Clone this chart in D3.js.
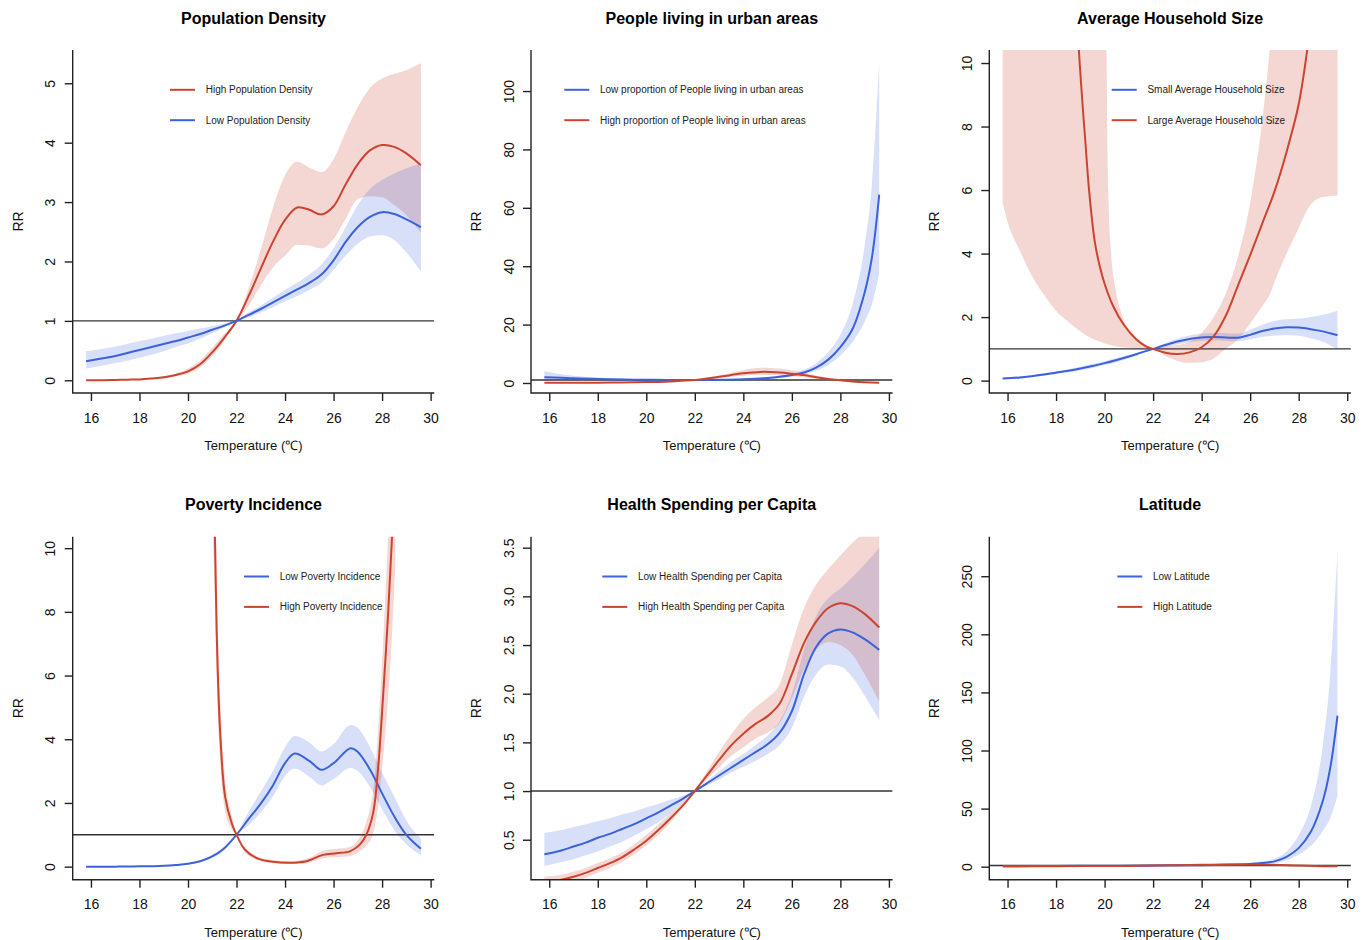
<!DOCTYPE html>
<html>
<head>
<meta charset="utf-8">
<script src="https://cdn.jsdelivr.net/npm/d3@7"></script>
<style>
  body { margin: 0; background: #fff; }
  svg { display: block; font-family: "Liberation Sans", Arial, Helvetica, sans-serif; }
</style>
</head>
<body>
<svg id="chart" width="1369" height="940"></svg>
<script>
// ---------- shared axis data ----------
const xTicks = [16, 18, 20, 22, 24, 26, 28, 30];
const xLabel = "Temperature (℃)";
const yLabel = "RR";

// ---------- Panel 1: Population Density ----------
const pdTitle = "Population Density";
const pdTicks = [0, 1, 2, 3, 4, 5];
const pdT = [15.8, 16.5, 17, 17.5, 18, 18.5, 19, 19.5, 20, 20.5, 21, 21.5, 22, 22.5, 23, 23.5, 24, 24.5, 25, 25.5, 26, 26.5, 27, 27.5, 28, 28.5, 29, 29.6];
const pdHigh   = [0, 0, 0.005, 0.01, 0.015, 0.03, 0.05, 0.09, 0.15, 0.27, 0.47, 0.72, 1.0, 1.42, 1.88, 2.33, 2.70, 2.91, 2.87, 2.79, 2.93, 3.30, 3.64, 3.87, 3.96, 3.93, 3.82, 3.62];
const pdHighLo = [0, 0, 0.003, 0.007, 0.01, 0.02, 0.03, 0.07, 0.11, 0.22, 0.41, 0.66, 1.0, 1.25, 1.60, 1.90, 2.10, 2.28, 2.27, 2.22, 2.38, 2.72, 3.05, 3.10, 3.08, 2.95, 2.78, 2.48];
const pdHighHi = [0.003, 0.005, 0.008, 0.014, 0.02, 0.04, 0.06, 0.11, 0.20, 0.33, 0.55, 0.78, 1.0, 1.55, 2.20, 2.90, 3.45, 3.68, 3.58, 3.50, 3.72, 4.18, 4.60, 4.92, 5.08, 5.16, 5.22, 5.34];
const pdLow    = [0.32, 0.37, 0.41, 0.46, 0.51, 0.56, 0.61, 0.66, 0.72, 0.78, 0.85, 0.92, 1.0, 1.10, 1.20, 1.31, 1.42, 1.53, 1.64, 1.78, 2.02, 2.33, 2.58, 2.75, 2.83, 2.80, 2.71, 2.58];
const pdLowLo  = [0.20, 0.25, 0.29, 0.33, 0.38, 0.43, 0.49, 0.56, 0.62, 0.70, 0.79, 0.89, 1.0, 1.06, 1.14, 1.23, 1.33, 1.42, 1.52, 1.64, 1.86, 2.10, 2.30, 2.42, 2.44, 2.36, 2.15, 1.83];
const pdLowHi  = [0.49, 0.53, 0.57, 0.61, 0.66, 0.70, 0.75, 0.79, 0.83, 0.87, 0.91, 0.95, 1.0, 1.14, 1.26, 1.39, 1.52, 1.64, 1.78, 1.95, 2.22, 2.58, 2.95, 3.22, 3.37, 3.48, 3.57, 3.65];

// ---------- Panel 2: People living in urban areas ----------
const urTitle = "People living in urban areas";
const urTicks = [0, 20, 40, 60, 80, 100];
const urLowT  = [15.8, 16.5, 17, 18, 19, 20, 21, 22, 23, 24, 25, 25.5, 26, 26.5, 27, 27.5, 28, 28.5, 29, 29.3, 29.6];
const urLow   = [2.0, 1.8, 1.6, 1.4, 1.2, 1.1, 1.05, 1.0, 1.1, 1.3, 1.7, 2.1, 2.7, 3.6, 5.3, 8.0, 12.3, 18.5, 31, 43, 64.5];
const urLowLo = [0.9, 1.05, 1.05, 1.0, 0.95, 0.95, 1.0, 1.0, 1.0, 1.1, 1.4, 1.75, 2.25, 3.0, 4.2, 6.2, 9.4, 14, 21, 27, 37.5];
const urLowHi = [4.0, 3.0, 2.5, 1.9, 1.5, 1.25, 1.1, 1.0, 1.2, 1.5, 2.0, 2.5, 3.2, 4.5, 6.8, 10.5, 16.5, 27, 47, 68, 110];
const urHighT  = [15.8, 17, 18, 19, 20, 21, 22, 23, 24, 24.7, 25.5, 26, 26.5, 27, 27.5, 28, 28.5, 29, 29.6];
const urHigh   = [0.1, 0.1, 0.12, 0.2, 0.3, 0.55, 1.0, 2.1, 3.3, 3.8, 3.6, 3.2, 2.7, 2.0, 1.4, 0.95, 0.55, 0.28, 0.12];
const urHighLo = [0.05, 0.06, 0.08, 0.12, 0.2, 0.45, 1.0, 1.7, 2.5, 2.8, 2.6, 2.3, 1.95, 1.5, 1.1, 0.78, 0.4, 0.18, 0.07];
const urHighHi = [0.15, 0.17, 0.2, 0.3, 0.45, 0.7, 1.0, 2.6, 4.4, 5.2, 5.0, 4.4, 3.6, 2.6, 1.8, 1.15, 0.75, 0.4, 0.2];

// ---------- Panel 3: Average Household Size ----------
const hhTitle = "Average Household Size";
const hhTicks = [0, 2, 4, 6, 8, 10];
const hhSmallT  = [15.8, 16.5, 17, 17.5, 18, 18.5, 19, 19.5, 20, 20.5, 21, 21.5, 22, 22.5, 23, 23.5, 24, 24.5, 25, 25.5, 26, 26.5, 27, 27.5, 28, 28.5, 29, 29.6];
const hhSmall   = [0.07, 0.10, 0.14, 0.19, 0.25, 0.31, 0.38, 0.46, 0.55, 0.65, 0.76, 0.88, 1.0, 1.12, 1.23, 1.31, 1.36, 1.37, 1.36, 1.35, 1.44, 1.56, 1.64, 1.68, 1.67, 1.62, 1.55, 1.43];
const hhSmallLo = [0.04, 0.07, 0.11, 0.15, 0.21, 0.26, 0.32, 0.40, 0.49, 0.59, 0.70, 0.84, 1.0, 1.06, 1.14, 1.21, 1.25, 1.26, 1.25, 1.24, 1.30, 1.38, 1.42, 1.44, 1.41, 1.33, 1.22, 0.98];
const hhSmallHi = [0.10, 0.13, 0.17, 0.23, 0.29, 0.36, 0.44, 0.52, 0.61, 0.71, 0.81, 0.91, 1.0, 1.18, 1.32, 1.42, 1.48, 1.50, 1.49, 1.48, 1.60, 1.76, 1.88, 1.93, 1.95, 2.00, 2.07, 2.20];
const hhLargeT  = [18.6, 18.8, 18.94, 19.1, 19.2, 19.36, 19.6, 19.8, 20.0, 20.35, 20.8, 21.3, 21.7, 22, 22.5, 23, 23.5, 24, 24.5, 25, 25.5, 26, 26.5, 27, 27.5, 28, 28.35, 28.6];
const hhLarge   = [15, 12.5, 10.4, 8.6, 7.6, 6.0, 4.35, 3.6, 3.05, 2.35, 1.75, 1.3, 1.08, 1.0, 0.88, 0.84, 0.89, 1.05, 1.4, 2.05, 3.0, 3.95, 4.95, 5.95, 7.2, 8.7, 10.4, 12];
const hhLargeBandT = [15.8, 16, 16.5, 17, 17.5, 18, 18.5, 19, 19.5, 19.9, 20.0, 20.08, 20.15, 20.25, 20.45, 20.7, 21.2, 21.65, 22, 22.5, 23, 23.5, 24, 24.5, 25, 25.5, 26, 26.5, 26.8, 27, 27.5, 28, 28.5, 29, 29.6];
const hhLargeLo = [5.6, 5.0, 4.1, 3.3, 2.7, 2.2, 1.85, 1.55, 1.32, 1.2, 1.17, 1.15, 1.14, 1.12, 1.08, 1.05, 1.02, 1.01, 1.0, 0.78, 0.62, 0.56, 0.58, 0.70, 1.0, 1.3, 1.8, 2.35, 2.7, 3.1, 4.0, 4.8, 5.55, 5.78, 5.83];
const hhLargeHi = [60, 55, 50, 45, 40, 36, 33, 31, 30, 25, 18, 10.4, 6.0, 4.2, 2.9, 2.1, 1.45, 1.16, 1.0, 1.08, 1.12, 1.22, 1.5, 2.0, 2.75, 3.9, 5.6, 8.2, 10.4, 12.5, 17, 22, 28, 35, 45];

// ---------- Panel 4: Poverty Incidence ----------
const pvTitle = "Poverty Incidence";
const pvTicks = [0, 2, 4, 6, 8, 10];
const pvLowT  = [15.8, 16.5, 17, 17.5, 18, 18.5, 19, 19.5, 20, 20.5, 21, 21.5, 22, 22.5, 23, 23.5, 24, 24.4, 25, 25.5, 26, 26.7, 27, 27.5, 28, 28.5, 29, 29.6];
const pvLow   = [0, 0, 0, 0.005, 0.01, 0.015, 0.025, 0.05, 0.09, 0.17, 0.32, 0.58, 1.0, 1.50, 1.98, 2.55, 3.25, 3.55, 3.32, 3.04, 3.25, 3.72, 3.60, 3.05, 2.30, 1.58, 1.0, 0.56];
const pvLowLo = [0, 0, 0, 0.004, 0.008, 0.012, 0.02, 0.04, 0.07, 0.14, 0.28, 0.52, 1.0, 1.30, 1.70, 2.20, 2.85, 3.08, 2.82, 2.55, 2.75, 3.10, 3.00, 2.50, 1.80, 1.15, 0.70, 0.36];
const pvLowHi = [0, 0, 0, 0.006, 0.012, 0.02, 0.03, 0.06, 0.11, 0.20, 0.37, 0.64, 1.0, 1.72, 2.35, 3.00, 3.75, 4.10, 3.90, 3.62, 3.85, 4.45, 4.35, 3.75, 2.95, 2.20, 1.45, 0.88];
const pvHighT  = [20.95, 21.11, 21.18, 21.32, 21.53, 21.8, 22.0, 22.35, 22.83, 23.52, 24.2, 24.88, 25.57, 26.12, 26.67, 27.08, 27.35, 27.63, 27.83, 28.04, 28.25, 28.41, 28.55];
const pvHigh   = [14, 10.4, 7.44, 4.3, 2.2, 1.37, 1.0, 0.53, 0.27, 0.15, 0.12, 0.17, 0.37, 0.42, 0.48, 0.69, 1.0, 1.68, 3.04, 5.34, 7.96, 10.36, 12.5];
const pvHighLo = [11.5, 8.4, 6.0, 3.4, 1.75, 1.17, 1.0, 0.46, 0.22, 0.11, 0.08, 0.11, 0.26, 0.30, 0.33, 0.48, 0.66, 1.05, 1.85, 3.4, 5.3, 7.3, 9.5];
const pvHighHi = [17, 12.8, 9.2, 5.4, 2.75, 1.62, 1.0, 0.60, 0.33, 0.20, 0.17, 0.24, 0.50, 0.56, 0.62, 0.92, 1.40, 2.4, 4.2, 7.0, 10.4, 13, 16];

// ---------- Panel 5: Health Spending per Capita ----------
const hsTitle = "Health Spending per Capita";
const hsTicks = [0.5, 1.0, 1.5, 2.0, 2.5, 3.0, 3.5];
const hsT = [15.8, 16.5, 17, 17.5, 18, 18.5, 19, 19.5, 20, 20.5, 21, 21.5, 22, 22.5, 23, 23.5, 24, 24.5, 25, 25.5, 26, 26.5, 27, 27.5, 28, 28.5, 29, 29.6];
const hsLow    = [0.35, 0.39, 0.43, 0.47, 0.52, 0.56, 0.61, 0.66, 0.72, 0.78, 0.85, 0.92, 1.0, 1.08, 1.16, 1.24, 1.32, 1.40, 1.48, 1.60, 1.82, 2.20, 2.48, 2.62, 2.66, 2.63, 2.56, 2.45];
const hsLowLo  = [0.23, 0.27, 0.30, 0.34, 0.38, 0.43, 0.48, 0.54, 0.61, 0.68, 0.77, 0.88, 1.0, 1.06, 1.12, 1.19, 1.25, 1.31, 1.38, 1.47, 1.65, 1.97, 2.20, 2.30, 2.28, 2.17, 1.98, 1.73];
const hsLowHi  = [0.57, 0.60, 0.63, 0.66, 0.69, 0.72, 0.76, 0.79, 0.83, 0.87, 0.91, 0.95, 1.0, 1.10, 1.20, 1.30, 1.38, 1.47, 1.57, 1.72, 2.00, 2.45, 2.80, 2.98, 3.08, 3.20, 3.33, 3.50];
const hsHigh   = [0.06, 0.09, 0.12, 0.16, 0.21, 0.26, 0.32, 0.40, 0.49, 0.60, 0.72, 0.85, 1.0, 1.16, 1.32, 1.47, 1.59, 1.69, 1.77, 1.90, 2.20, 2.52, 2.74, 2.88, 2.93, 2.90, 2.82, 2.68];
const hsHighLo = [0.0, 0.04, 0.07, 0.11, 0.16, 0.21, 0.27, 0.35, 0.44, 0.55, 0.68, 0.83, 1.0, 1.12, 1.24, 1.36, 1.45, 1.54, 1.60, 1.70, 1.95, 2.25, 2.45, 2.53, 2.50, 2.40, 2.20, 1.92];
const hsHighHi = [0.12, 0.14, 0.17, 0.21, 0.26, 0.31, 0.37, 0.45, 0.55, 0.66, 0.77, 0.88, 1.0, 1.20, 1.40, 1.58, 1.74, 1.86, 1.96, 2.10, 2.50, 2.88, 3.12, 3.28, 3.42, 3.55, 3.66, 3.75];

// ---------- Panel 6: Latitude ----------
const laTitle = "Latitude";
const laTicks = [0, 50, 100, 150, 200, 250];
const laLowT  = [15.8, 17, 18, 19, 20, 21, 22, 23, 24, 25, 26, 26.5, 27, 27.5, 28, 28.5, 29, 29.3, 29.6];
const laLow   = [0.6, 0.65, 0.7, 0.76, 0.83, 0.91, 1.0, 1.15, 1.35, 1.7, 2.4, 3.2, 4.6, 8.5, 16, 30, 57, 85, 130];
const laLowLo = [0.4, 0.5, 0.58, 0.66, 0.75, 0.86, 1.0, 1.05, 1.15, 1.3, 1.75, 2.2, 3.1, 5.6, 10.5, 18, 31, 42, 61];
const laLowHi = [0.9, 0.85, 0.85, 0.88, 0.92, 0.96, 1.0, 1.25, 1.6, 2.2, 3.3, 4.6, 6.8, 13, 27, 52, 105, 165, 272];
const laHighT  = [15.8, 18, 20, 22, 23, 24, 25, 26, 27, 28, 29, 29.6];
const laHigh   = [0.2, 0.4, 0.6, 1.0, 1.3, 1.6, 1.9, 2.0, 1.7, 1.0, 0.5, 0.3];
const laHighLo = [0.08, 0.25, 0.45, 1.0, 1.05, 1.25, 1.5, 1.5, 1.2, 0.6, 0.25, 0.12];
const laHighHi = [0.5, 0.6, 0.8, 1.0, 1.6, 2.0, 2.4, 2.6, 2.3, 1.5, 0.9, 0.7];

// ---------- styling & layout ----------
const RED = "#cc4430", BLUE = "#3b62dc";
const RED_BAND = "rgba(205,70,50,0.22)", BLUE_BAND = "rgba(65,105,225,0.21)";
const colX = [72.7, 531, 989.3];
const rowY = [50, 536.7];
const PW = 361.6, PH = 343;
const xDomain = [15.248, 30.152];
const TICK_FONT = 14;

const zip = (T, a, b, c) => T.map((t, i) => ({ t, m: a ? a[i] : null, lo: b ? b[i] : null, hi: c ? c[i] : null }));

const panels = [
  { title: pdTitle, col: 0, row: 0, yDomain: [-0.214, 5.56], ticks: pdTicks, fmt: d3.format("d"), legX: 97.3,
    series: [
      { name: "High Population Density", color: RED, band: RED_BAND, line: zip(pdT, pdHigh), area: zip(pdT, null, pdHighLo, pdHighHi) },
      { name: "Low Population Density", color: BLUE, band: BLUE_BAND, line: zip(pdT, pdLow), area: zip(pdT, null, pdLowLo, pdLowHi) } ] },
  { title: urTitle, col: 1, row: 0, yDomain: [-3.43, 114.06], ticks: urTicks, fmt: d3.format("d"), legX: 33.3,
    series: [
      { name: "Low proportion of People living in urban areas", color: BLUE, band: BLUE_BAND, line: zip(urLowT, urLow), area: zip(urLowT, null, urLowLo, urLowHi) },
      { name: "High proportion of People living in urban areas", color: RED, band: RED_BAND, line: zip(urHighT, urHigh), area: zip(urHighT, null, urHighLo, urHighHi) } ] },
  { title: hhTitle, col: 2, row: 0, yDomain: [-0.39, 10.41], ticks: hhTicks, fmt: d3.format("d"), legX: 122.4,
    series: [
      { name: "Small Average Household Size", color: BLUE, band: BLUE_BAND, line: zip(hhSmallT, hhSmall), area: zip(hhSmallT, null, hhSmallLo, hhSmallHi) },
      { name: "Large Average Household Size", color: RED, band: RED_BAND, line: zip(hhLargeT, hhLarge), area: zip(hhLargeBandT, null, hhLargeLo, hhLargeHi) } ] },
  { title: pvTitle, col: 0, row: 1, yDomain: [-0.41, 10.36], ticks: pvTicks, fmt: d3.format("d"), legX: 171.3,
    series: [
      { name: "Low Poverty Incidence", color: BLUE, band: BLUE_BAND, line: zip(pvLowT, pvLow), area: zip(pvLowT, null, pvLowLo, pvLowHi) },
      { name: "High Poverty Incidence", color: RED, band: RED_BAND, line: zip(pvHighT, pvHigh), area: zip(pvHighT, null, pvHighLo, pvHighHi) } ] },
  { title: hsTitle, col: 1, row: 1, yDomain: [0.0894, 3.613], ticks: hsTicks, fmt: d3.format(".1f"), legX: 71.3,
    series: [
      { name: "Low Health Spending per Capita", color: BLUE, band: BLUE_BAND, line: zip(hsT, hsLow), area: zip(hsT, null, hsLowLo, hsLowHi) },
      { name: "High Health Spending per Capita", color: RED, band: RED_BAND, line: zip(hsT, hsHigh), area: zip(hsT, null, hsHighLo, hsHighHi) } ] },
  { title: laTitle, col: 2, row: 1, yDomain: [-11.18, 284.0], ticks: laTicks, fmt: d3.format("d"), legX: 128,
    series: [
      { name: "Low Latitude", color: BLUE, band: BLUE_BAND, line: zip(laLowT, laLow), area: zip(laLowT, null, laLowLo, laLowHi) },
      { name: "High Latitude", color: RED, band: RED_BAND, line: zip(laHighT, laHigh), area: zip(laHighT, null, laHighLo, laHighHi) } ] }
];

const svg = d3.select("#chart");
const defs = svg.append("defs");
const AXIS_COL = "#222";

panels.forEach((p, i) => {
  const g = svg.append("g").attr("transform", `translate(${colX[p.col]},${rowY[p.row]})`);
  const x = d3.scaleLinear().domain(xDomain).range([0, PW]);
  const y = d3.scaleLinear().domain(p.yDomain).range([PH, 0]);

  defs.append("clipPath").attr("id", "clip" + i)
    .append("rect").attr("x", 0).attr("y", 0).attr("width", PW).attr("height", PH);
  const plot = g.append("g").attr("clip-path", `url(#clip${i})`);

  const area = d3.area().x(d => x(d.t)).y0(d => y(d.lo)).y1(d => y(d.hi)).curve(d3.curveMonotoneX);
  const line = d3.line().x(d => x(d.t)).y(d => y(d.m)).curve(d3.curveCatmullRom.alpha(0.5));

  p.series.forEach(s => {
    plot.append("path").datum(s.area).attr("d", area).attr("fill", s.band).attr("stroke", "none");
  });
  // reference line RR = 1
  plot.append("line").attr("x1", 0).attr("x2", PW).attr("y1", y(1)).attr("y2", y(1))
    .attr("stroke", "#333").attr("stroke-width", 1.4);
  p.series.forEach(s => {
    plot.append("path").datum(s.line).attr("d", line).attr("fill", "none")
      .attr("stroke", s.color).attr("stroke-width", 2);
  });

  // L-shaped box
  g.append("path").attr("d", `M0,0V${PH}H${PW}`).attr("fill", "none").attr("stroke", AXIS_COL).attr("stroke-width", 1.4);

  // x axis
  const xa = g.append("g").attr("transform", `translate(0,${PH})`)
    .call(d3.axisBottom(x).tickValues(xTicks).tickSize(8).tickSizeOuter(0).tickFormat(d3.format("d")));
  xa.select(".domain").remove();
  xa.selectAll(".tick line").attr("stroke", AXIS_COL).attr("stroke-width", 1.4);
  xa.selectAll(".tick text").attr("y", 0).attr("dy", 0).attr("transform", "translate(0,29.5)")
    .attr("font-size", TICK_FONT).attr("fill", "#111").attr("font-family", "Liberation Sans, Arial, sans-serif");

  // y axis
  const ya = g.append("g")
    .call(d3.axisLeft(y).tickValues(p.ticks).tickSize(8).tickSizeOuter(0).tickFormat(p.fmt));
  ya.select(".domain").remove();
  ya.selectAll(".tick line").attr("stroke", AXIS_COL).attr("stroke-width", 1.4);
  ya.selectAll(".tick text").attr("x", 0).attr("dy", 0).attr("text-anchor", "middle")
    .attr("transform", "translate(-17.5,0) rotate(-90)")
    .attr("font-size", TICK_FONT).attr("fill", "#111").attr("font-family", "Liberation Sans, Arial, sans-serif");

  // titles
  g.append("text").attr("x", PW / 2).attr("y", -26.5).attr("text-anchor", "middle")
    .attr("font-size", 16).attr("font-weight", "bold").attr("fill", "#000").text(p.title);
  g.append("text").attr("x", PW / 2).attr("y", PH + 57).attr("text-anchor", "middle")
    .attr("font-size", 13).attr("fill", "#111").text(xLabel);
  g.append("text").attr("transform", `translate(-50,${PH / 2}) rotate(-90)`).attr("text-anchor", "middle")
    .attr("font-size", 14).attr("fill", "#111").text(yLabel);

  // legend
  const legRows = [39.8, 70.2];
  p.series.forEach((s, k) => {
    const ly = legRows[k];
    g.append("line").attr("x1", p.legX).attr("x2", p.legX + 25).attr("y1", ly).attr("y2", ly)
      .attr("stroke", s.color).attr("stroke-width", 2);
    g.append("text").attr("x", p.legX + 35.7).attr("y", ly + 3.6).attr("font-size", 10)
      .attr("fill", "#222").text(s.name);
  });
});
</script>
</body>
</html>
